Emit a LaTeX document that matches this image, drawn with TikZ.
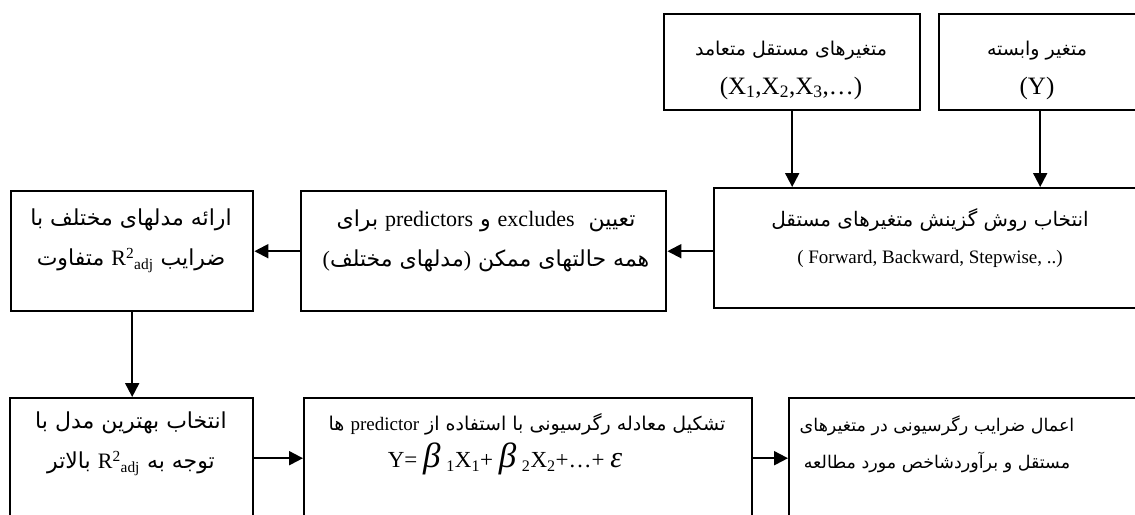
\documentclass[tikz,border=0pt]{standalone}
\usepackage{fontspec}
\setmainfont{Liberation Serif}
\newfontfamily\fa[Script=Arabic,Scale=1.0]{DejaVu Sans}
\usetikzlibrary{arrows.meta}
\TeXXeTstate=1
\newcommand*{\lat}[1]{\beginL{\rmfamily #1}\endL}
\newcommand*{\radj}{\lat{R\textsuperscript{2}\textsubscript{adj}}}
\newcommand*{\bet}{{\fontsize{35}{35}\selectfont\itshape β}}

\begin{document}
\begin{tikzpicture}[x=1pt, y=-1pt, ->, >={Triangle[length=14pt,width=14pt]}, line width=2pt]
\tikzstyle{box}=[draw=black, line width=2.4pt, anchor=north west, inner sep=0pt]
\tikzstyle{txt}=[align=center, font=\fontsize{19}{37}\selectfont, inner sep=0pt]
\tikzstyle{big}=[font=\fontsize{25}{39}\selectfont]
\tikzstyle{mid}=[font=\fontsize{22}{40}\selectfont]
\useasboundingbox (0,0) rectangle (1135,514);
% boxes
\node[box, minimum width=256pt, minimum height=96pt]  (xs)      at (663,13)  {};
\node[box, minimum width=202pt, minimum height=96pt]  (dep)     at (938,13)  {};
\node[box, minimum width=424pt, minimum height=120pt] (method)  at (713,187) {};
\node[box, minimum width=365pt, minimum height=120pt] (models)  at (300,190) {};
\node[box, minimum width=242pt, minimum height=120pt] (present) at (10,190)  {};
\node[box, minimum width=243pt, minimum height=120pt] (best)    at (9,397)   {};
\node[box, minimum width=448pt, minimum height=120pt] (eq)      at (303,397) {};
\node[box, minimum width=360pt, minimum height=120pt] (apply)   at (788,397) {};
% texts
\node[txt, big] (xs-t)  at (791,70)  {{\fa\fontsize{19}{39}\selectfont\beginR متغیرهای مستقل متعامد\endR}\\(X\textsubscript{1},X\textsubscript{2},X\textsubscript{3},…)};
\node[txt, big] (dep-t) at (1037,70) {{\fa\fontsize{19}{39}\selectfont\beginR متغیر وابسته\endR}\\(Y)};
\node[txt] (method-t)  at (930,238) {{\fa\fontsize{20}{37}\selectfont\beginR انتخاب روش گزینش متغیرهای مستقل\endR}\\( Forward, Backward, Stepwise, ..)};
\node[txt, mid] (models-t)  at (486,241) {{\fa\beginR تعیین\ \ \lat{excludes} و \lat{predictors} برای\endR}\\{\fa\beginR همه حالتهای ممکن \lat{)}مدلهای مختلف\lat{(}\endR}};
\node[txt, mid] (present-t) at (131,241) {{\fa\beginR ارائه مدلهای مختلف با\endR}\\{\fa\beginR ضرایب \radj{} متفاوت\endR}};
\node[txt, mid] (best-t)    at (131,444) {{\fa\beginR انتخاب بهترین مدل با\endR}\\{\fa\beginR توجه به \radj{} بالاتر\endR}};
\node[txt] (eq-t)      at (527,444) {{\fa\beginR تشکیل معادله رگرسیونی با استفاده از \lat{predictor} ها\endR}\\{\fontsize{23}{37}\selectfont Y=\ \bet\ \textsubscript{1}X\textsubscript{1}+\ \bet\ \textsubscript{2}X\textsubscript{2}+…+\ {\fontsize{30}{30}\selectfont\itshape ε}\kern44pt}};
\node[txt] (apply-t)   at (937,444) {{\fa\fontsize{17.5}{37}\selectfont\beginR اعمال ضرایب رگرسیونی در متغیرهای\endR}\\{\fa\fontsize{17.5}{37}\selectfont\beginR مستقل و برآوردشاخص مورد مطالعه\endR}};
\path
(xs)  edge (xs |- method.north)
(dep) edge (dep |- method.north)
(method.west |- models) edge (models)
(models)  edge (present)
(present) edge (present |- best.north)
(best) edge (eq)
(eq)   edge (apply);
\end{tikzpicture}
\end{document}
